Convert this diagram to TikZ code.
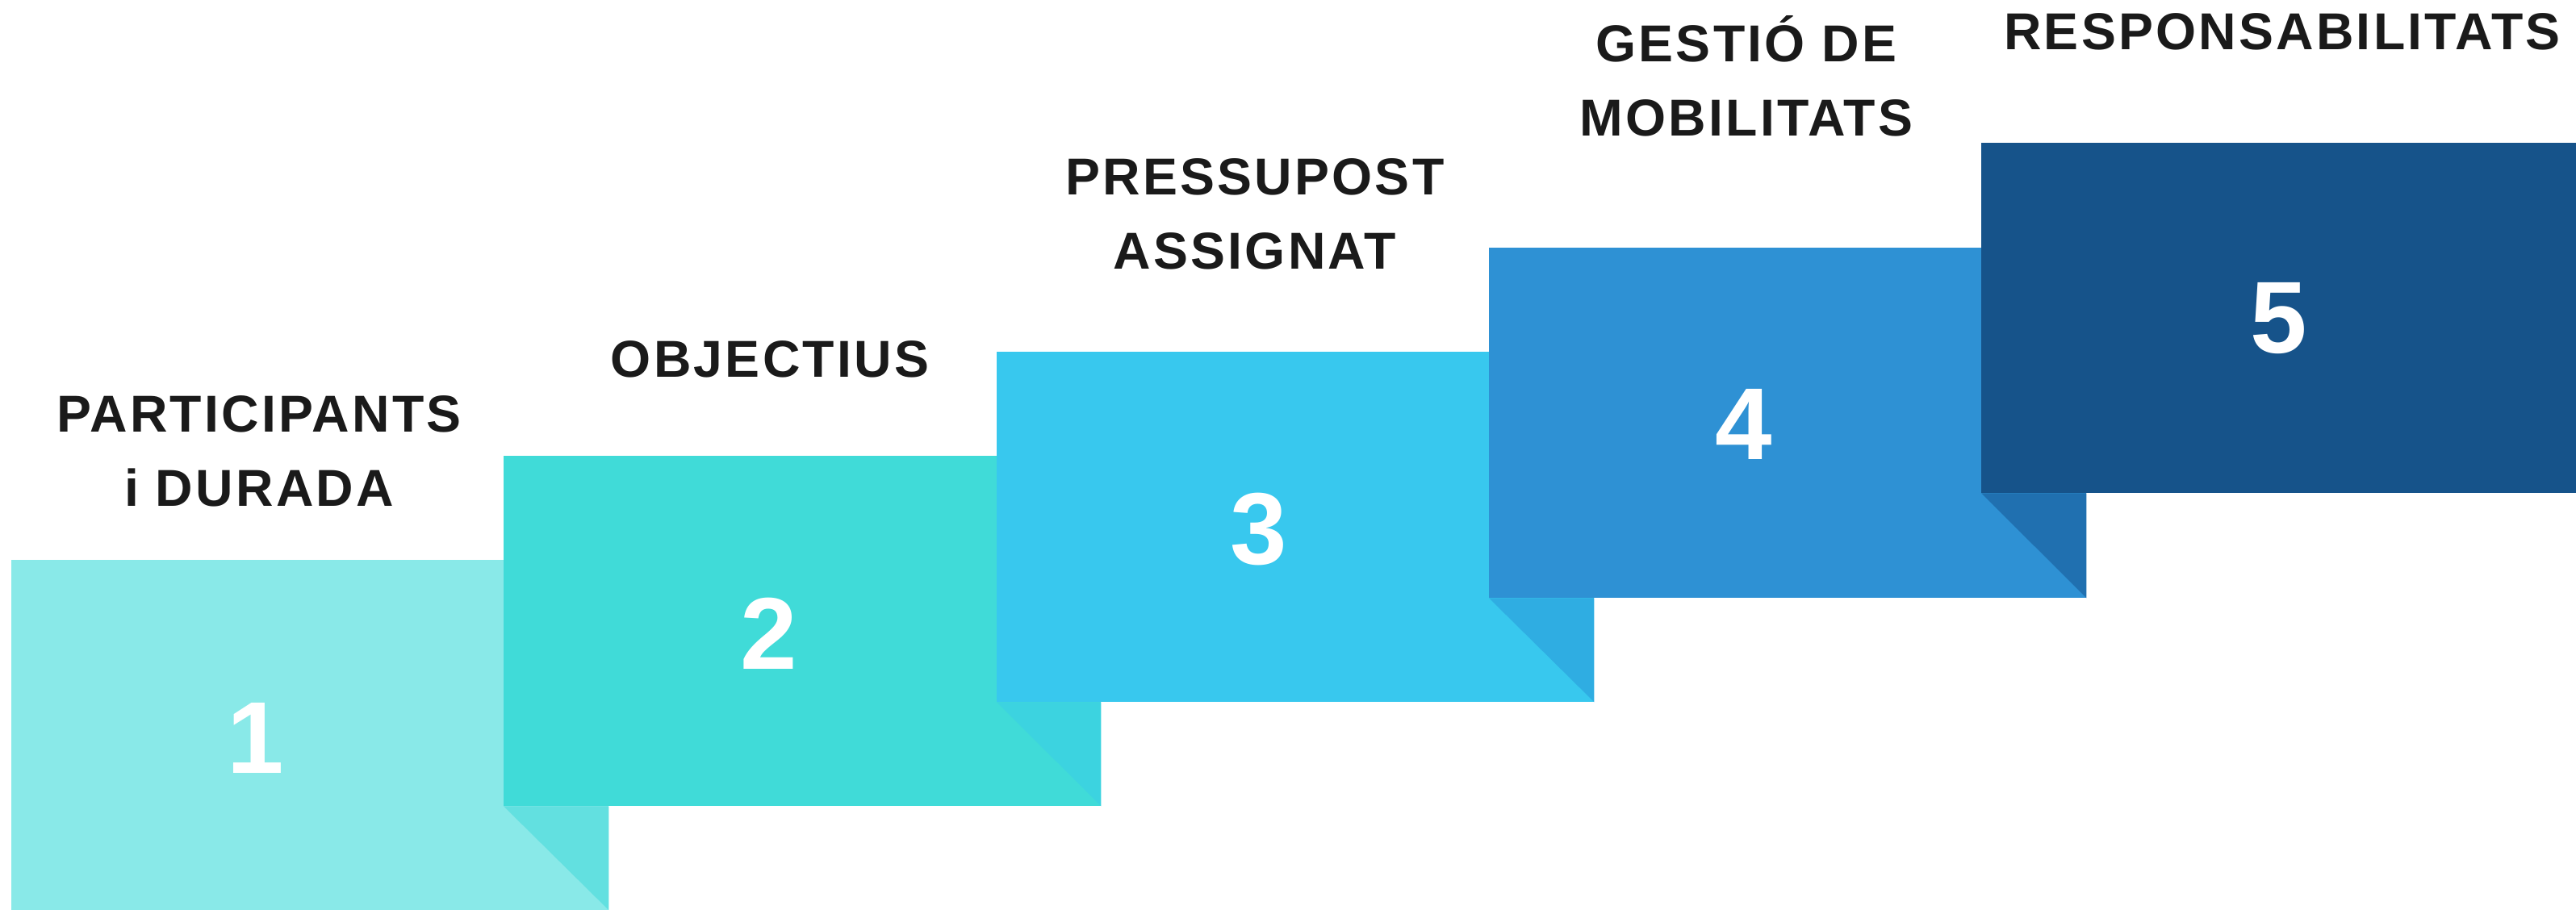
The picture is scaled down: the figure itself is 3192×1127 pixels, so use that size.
\documentclass[tikz,border=0pt]{standalone}
\usepackage{fontspec}
\setmainfont{Liberation Sans}
\newfontfamily\stepfont{Liberation Sans}[LetterSpace=5]
\usepackage{tikz}

\definecolor{stepA}{HTML}{89E9E8}
\definecolor{foldA}{HTML}{62E0E0}
\definecolor{stepB}{HTML}{40DBD8}
\definecolor{foldB}{HTML}{3CD3E0}
\definecolor{stepC}{HTML}{38C8EE}
\definecolor{foldC}{HTML}{2FADE2}
\definecolor{stepD}{HTML}{2E91D4}
\definecolor{foldD}{HTML}{2070B0}
\definecolor{stepE}{HTML}{16538A}
\definecolor{inktext}{HTML}{1A1A1A}

\tikzset{
  stepbox/.style={anchor=north west, inner sep=0pt, outer sep=0pt,
    minimum width=7.4cm, minimum height=4.34cm},
  stepnum/.style={text=white, inner sep=0pt, font=\bfseries\fontsize{36}{36}\selectfont},
  steplabel/.style={anchor=base, inner sep=0pt, text=inktext,
    font=\stepfont\bfseries\fontsize{18.3}{22}\selectfont}
}

\begin{document}
\begin{tikzpicture}[x=0.01cm,y=-0.01cm]
\useasboundingbox (0,0) rectangle (3192,1127);
\node[stepbox, fill=stepA] (b1) at (14,694) {};
\node[stepbox, fill=stepB] (b2) at (624,565) {};
\fill[foldA] (b2.south west) -- (b1.south east |- b2.south west) -- (b1.south east) -- cycle;
\node[stepbox, fill=stepC] (b3) at (1235,436) {};
\fill[foldB] (b3.south west) -- (b2.south east |- b3.south west) -- (b2.south east) -- cycle;
\node[stepbox, fill=stepD] (b4) at (1845,307) {};
\fill[foldC] (b4.south west) -- (b3.south east |- b4.south west) -- (b3.south east) -- cycle;
\node[stepbox, fill=stepE] (b5) at (2455,177) {};
\fill[foldD] (b5.south west) -- (b4.south east |- b5.south west) -- (b4.south east) -- cycle;

\node[stepnum] (n1) at (317,915) {1};
\node[stepnum] (n2) at (953,785) {2};
\node[stepnum] (n3) at (1560,656) {3};
\node[stepnum] (n4) at (2161,526) {4};
\node[stepnum] (n5) at (2824,395) {5};

\node[steplabel] (l1a) at (321,535) {PARTICIPANTS};
\node[steplabel] (l1b) at (321,627) {i DURADA};
\node[steplabel] (l2) at (954,467) {OBJECTIUS};
\node[steplabel] (l3a) at (1555,241) {PRESSUPOST};
\node[steplabel] (l3b) at (1555,333) {ASSIGNAT};
\node[steplabel] (l4a) at (2164,76) {GESTIÓ DE};
\node[steplabel] (l4b) at (2164,168) {MOBILITATS};
\node[steplabel] (l5) at (2828,61) {RESPONSABILITATS};
\end{tikzpicture}
\end{document}
